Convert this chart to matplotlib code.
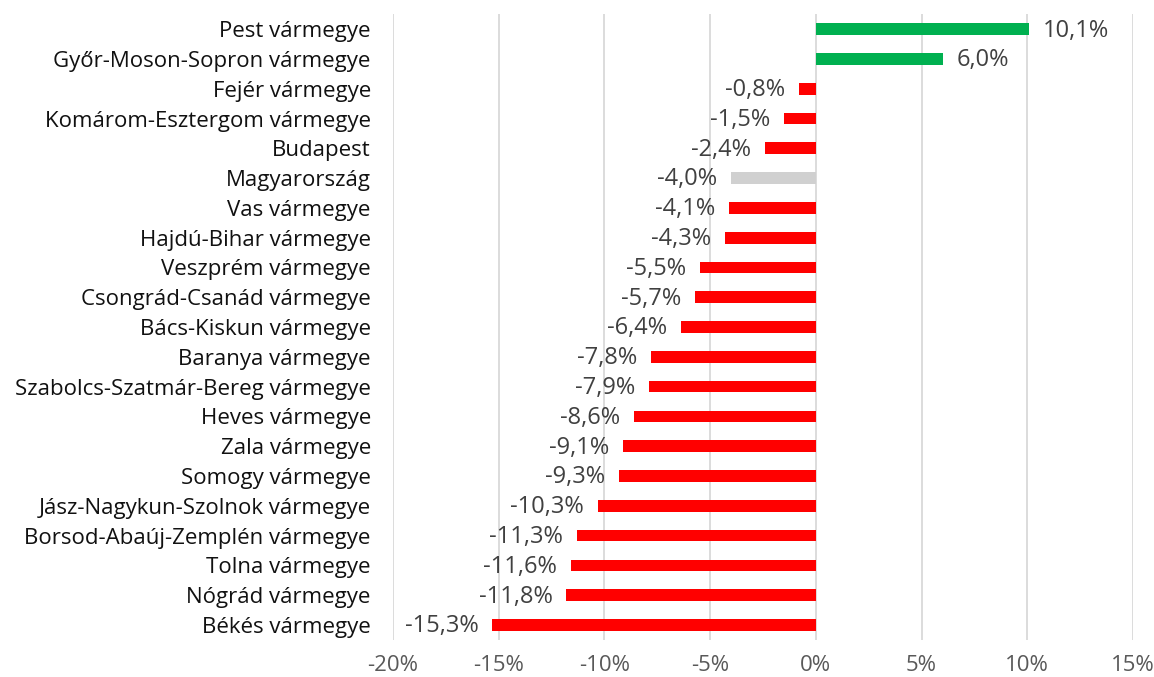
import numpy as np
import matplotlib.pyplot as plt
from matplotlib.ticker import FuncFormatter

plt.rcParams['font.family'] = ['Open Sans', 'DejaVu Sans']

counties = [
    'Pest vármegye', 'Győr-Moson-Sopron vármegye', 'Fejér vármegye',
    'Komárom-Esztergom vármegye', 'Budapest', 'Magyarország', 'Vas vármegye',
    'Hajdú-Bihar vármegye', 'Veszprém vármegye', 'Csongrád-Csanád vármegye',
    'Bács-Kiskun vármegye', 'Baranya vármegye', 'Szabolcs-Szatmár-Bereg vármegye',
    'Heves vármegye', 'Zala vármegye', 'Somogy vármegye',
    'Jász-Nagykun-Szolnok vármegye', 'Borsod-Abaúj-Zemplén vármegye',
    'Tolna vármegye', 'Nógrád vármegye', 'Békés vármegye',
]
change = [10.1, 6.0, -0.8, -1.5, -2.4, -4.0, -4.1, -4.3, -5.5, -5.7, -6.4,
          -7.8, -7.9, -8.6, -9.1, -9.3, -10.3, -11.3, -11.6, -11.8, -15.3]
x_ticks = [-20, -15, -10, -5, 0, 5, 10, 15]

colors = []
for name, v in zip(counties, change):
    if name == 'Magyarország':
        colors.append('#D0D0D0')
    elif v > 0:
        colors.append('#00B050')
    else:
        colors.append('#FF0000')

fig = plt.figure(figsize=(11.54, 6.77), dpi=100)
ax = fig.add_axes([0.3406, 0.0547, 0.6412, 0.9243])

y = np.arange(len(counties))
ax.barh(y, change, height=0.39, color=colors, zorder=3)

for yi, v in zip(y, change):
    label = f'{v:.1f}%'.replace('.', ',')
    if v >= 0:
        ax.annotate(label, (v, yi), xytext=(10, -1), textcoords='offset points',
                    ha='left', va='center', fontsize=17, color='#404040')
    else:
        ax.annotate(label, (v, yi), xytext=(-10, -1), textcoords='offset points',
                    ha='right', va='center', fontsize=17, color='#404040')

ax.set_xlim(-20, 15)
ax.set_ylim(len(counties) - 0.5, -0.5)
ax.set_xticks(x_ticks)
ax.xaxis.set_major_formatter(FuncFormatter(lambda v, p: f'{v:.0f}%'))
ax.set_yticks(y)
ax.set_yticklabels(counties)
ax.tick_params(axis='y', length=0, pad=16, labelsize=16, labelcolor='#111111')
ax.tick_params(axis='x', length=0, pad=11, labelsize=16, labelcolor='#595959')
ax.grid(axis='x', color='#D9D9D9', linewidth=1.3, zorder=0)
for s in ax.spines.values():
    s.set_visible(False)

fig.savefig('out.png', dpi=100)
